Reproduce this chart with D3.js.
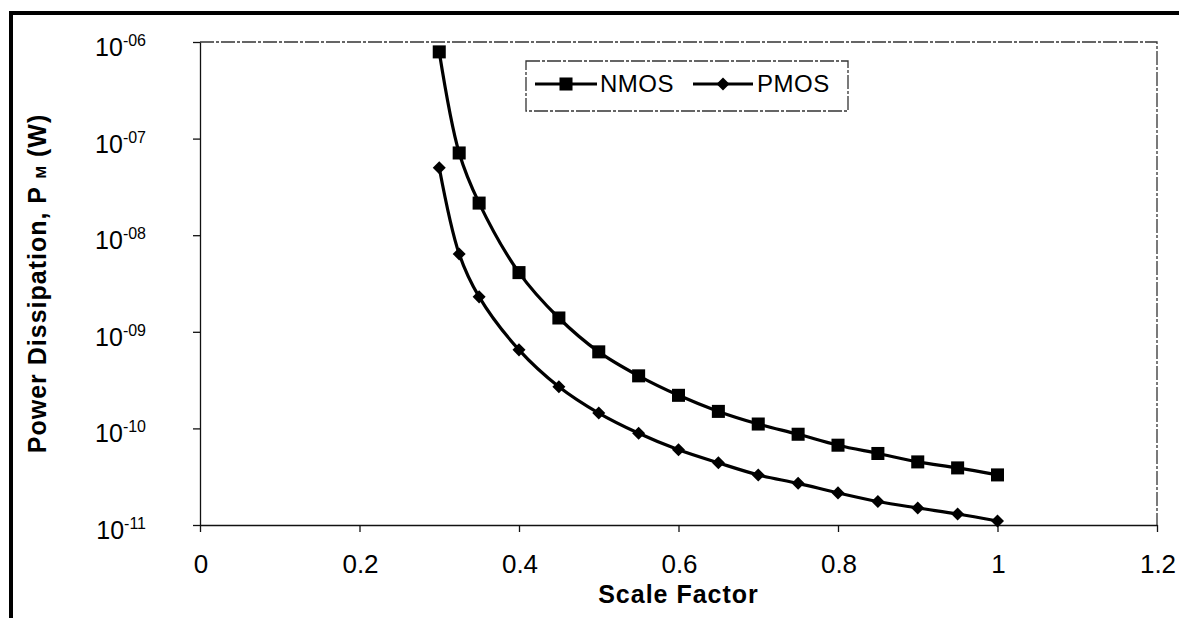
<!DOCTYPE html>
<html>
<head>
<meta charset="utf-8">
<script src="https://cdn.jsdelivr.net/npm/d3@7"></script>
<style>
  body { margin: 0; background: #fff; }
  svg { display: block; font-family: "Liberation Sans", Arial, sans-serif; }
</style>
</head>
<body>
<div id="chart"></div>
<script>
// Werte
const scaleFactor = [0.3, 0.325, 0.35, 0.4, 0.45, 0.5, 0.55, 0.6, 0.65, 0.7, 0.75, 0.8, 0.85, 0.9, 0.95, 1.0];
const nmos = [7.9e-7, 7.1e-8, 2.15e-8, 4.1e-9, 1.39e-9, 6.2e-10, 3.5e-10, 2.2e-10, 1.5e-10, 1.11e-10, 8.7e-11, 6.7e-11, 5.5e-11, 4.5e-11, 3.9e-11, 3.3e-11];
const pmos = [5.0e-8, 6.4e-9, 2.3e-9, 6.5e-10, 2.7e-10, 1.44e-10, 8.9e-11, 6.0e-11, 4.4e-11, 3.3e-11, 2.7e-11, 2.15e-11, 1.75e-11, 1.5e-11, 1.3e-11, 1.1e-11];
const xTicks = [0, 0.2, 0.4, 0.6, 0.8, 1, 1.2];
const yTicks = [1e-6, 1e-7, 1e-8, 1e-9, 1e-10, 1e-11];
const yTickLabels = ["-06", "-07", "-08", "-09", "-10", "-11"];
const seriesNames = ["NMOS", "PMOS"];

const width = 1179, height = 618;
const plot = { left: 200, right: 1157, top: 42, bottom: 525 };

const svg = d3.select("#chart")
  .append("svg")
  .attr("width", width)
  .attr("height", height);

// äußerer Rahmen (oben und links, Rest ist abgeschnitten)
svg.append("path")
  .attr("d", `M11,${height} L11,13 L${width},13`)
  .attr("fill", "none")
  .attr("stroke", "black")
  .attr("stroke-width", 4);

const xScale = d3.scaleLinear()
  .domain([0, 1.2])
  .range([plot.left, plot.right]);

const yScale = d3.scaleLog()
  .domain([1e-11, 1e-6])
  .range([plot.bottom, plot.top]);

// Rahmen der Zeichenfläche
svg.append("path")
  .attr("d", `M${plot.left},${plot.top} L${plot.right},${plot.top} L${plot.right},${plot.bottom}`)
  .attr("fill", "none")
  .attr("stroke", "#333")
  .attr("stroke-width", 1.3)
  .attr("stroke-dasharray", "14,2,3,2");

// X-Achse
const xAxis = svg.append("g")
  .attr("transform", `translate(0, ${plot.bottom})`)
  .call(d3.axisBottom(xScale).tickValues(xTicks).tickFormat("").tickSize(7).tickSizeOuter(0));
xAxis.select(".domain").attr("stroke", "#111").attr("stroke-width", 1.3);
xAxis.selectAll(".tick line").attr("stroke", "#111").attr("stroke-width", 1.3);

svg.append("g")
  .selectAll("text")
  .data(xTicks)
  .join("text")
  .attr("x", d => xScale(d) + 1)
  .attr("y", 573)
  .attr("text-anchor", "middle")
  .style("font-size", "26px")
  .text(d => d);

// Y-Achse
const yAxis = svg.append("g")
  .attr("transform", `translate(${plot.left}, 0)`)
  .call(d3.axisLeft(yScale).tickValues(yTicks).tickFormat("").tickSize(7).tickSizeOuter(0));
yAxis.select(".domain").attr("stroke", "#111").attr("stroke-width", 1.3);
yAxis.selectAll(".tick line").attr("stroke", "#111").attr("stroke-width", 1.3);

const yLabels = svg.append("g")
  .selectAll("text")
  .data(yTicks)
  .join("text")
  .attr("x", 146)
  .attr("y", d => yScale(d) + 14)
  .attr("text-anchor", "end")
  .style("font-size", "25px");
yLabels.append("tspan").text("10");
yLabels.append("tspan")
  .attr("dy", -10)
  .style("font-size", "16px")
  .text((d, i) => yTickLabels[i]);

// Achsentitel
svg.append("text")
  .attr("x", (plot.left + plot.right) / 2)
  .attr("y", 603)
  .attr("text-anchor", "middle")
  .style("font-size", "25px")
  .style("font-weight", "bold")
  .style("letter-spacing", "1px")
  .text("Scale Factor");

const yTitle = svg.append("text")
  .attr("transform", `translate(46, ${(plot.top + plot.bottom) / 2}) rotate(-90)`)
  .attr("text-anchor", "middle")
  .style("font-size", "25px")
  .style("font-weight", "bold")
  .style("letter-spacing", "1px");
yTitle.append("tspan").text("Power Dissipation, P ");
yTitle.append("tspan").style("font-size", "15px").text("M");
yTitle.append("tspan").text(" (W)");

// Linien
const line = d3.line()
  .x((d, i) => xScale(scaleFactor[i]))
  .y(d => yScale(d))
  .curve(d3.curveCatmullRom.alpha(0.5));

[nmos, pmos].forEach(series => {
  svg.append("path")
    .attr("d", line(series))
    .attr("fill", "none")
    .attr("stroke", "black")
    .attr("stroke-width", 3.2);
});

const square = d3.symbol().type(d3.symbolSquare).size(170);
const diamond = d3.symbol().type(d3.symbolSquare).size(85);

svg.append("g")
  .selectAll("path")
  .data(nmos)
  .join("path")
  .attr("d", square)
  .attr("transform", (d, i) => `translate(${xScale(scaleFactor[i])}, ${yScale(d)})`)
  .attr("fill", "black");

svg.append("g")
  .selectAll("path")
  .data(pmos)
  .join("path")
  .attr("d", diamond)
  .attr("transform", (d, i) => `translate(${xScale(scaleFactor[i])}, ${yScale(d)}) rotate(45)`)
  .attr("fill", "black");

// Legende
const legend = svg.append("g");
legend.append("rect")
  .attr("x", 526)
  .attr("y", 61)
  .attr("width", 322)
  .attr("height", 50)
  .attr("fill", "white")
  .attr("stroke", "#333")
  .attr("stroke-width", 1.3)
  .attr("stroke-dasharray", "14,2,3,2");

const legendItems = [
  { x1: 535, x2: 597, tx: 600, marker: square, rot: 0 },
  { x1: 693, x2: 753, tx: 757, marker: diamond, rot: 45 }
];

legendItems.forEach((it, i) => {
  legend.append("line")
    .attr("x1", it.x1).attr("x2", it.x2)
    .attr("y1", 84).attr("y2", 84)
    .attr("stroke", "black")
    .attr("stroke-width", 3.2);
  legend.append("path")
    .attr("d", it.marker)
    .attr("transform", `translate(${(it.x1 + it.x2) / 2}, 84) rotate(${it.rot})`)
    .attr("fill", "black");
  legend.append("text")
    .attr("x", it.tx)
    .attr("y", 92)
    .style("font-size", "24px")
    .style("letter-spacing", "0.5px")
    .text(seriesNames[i]);
});
</script>
</body>
</html>
